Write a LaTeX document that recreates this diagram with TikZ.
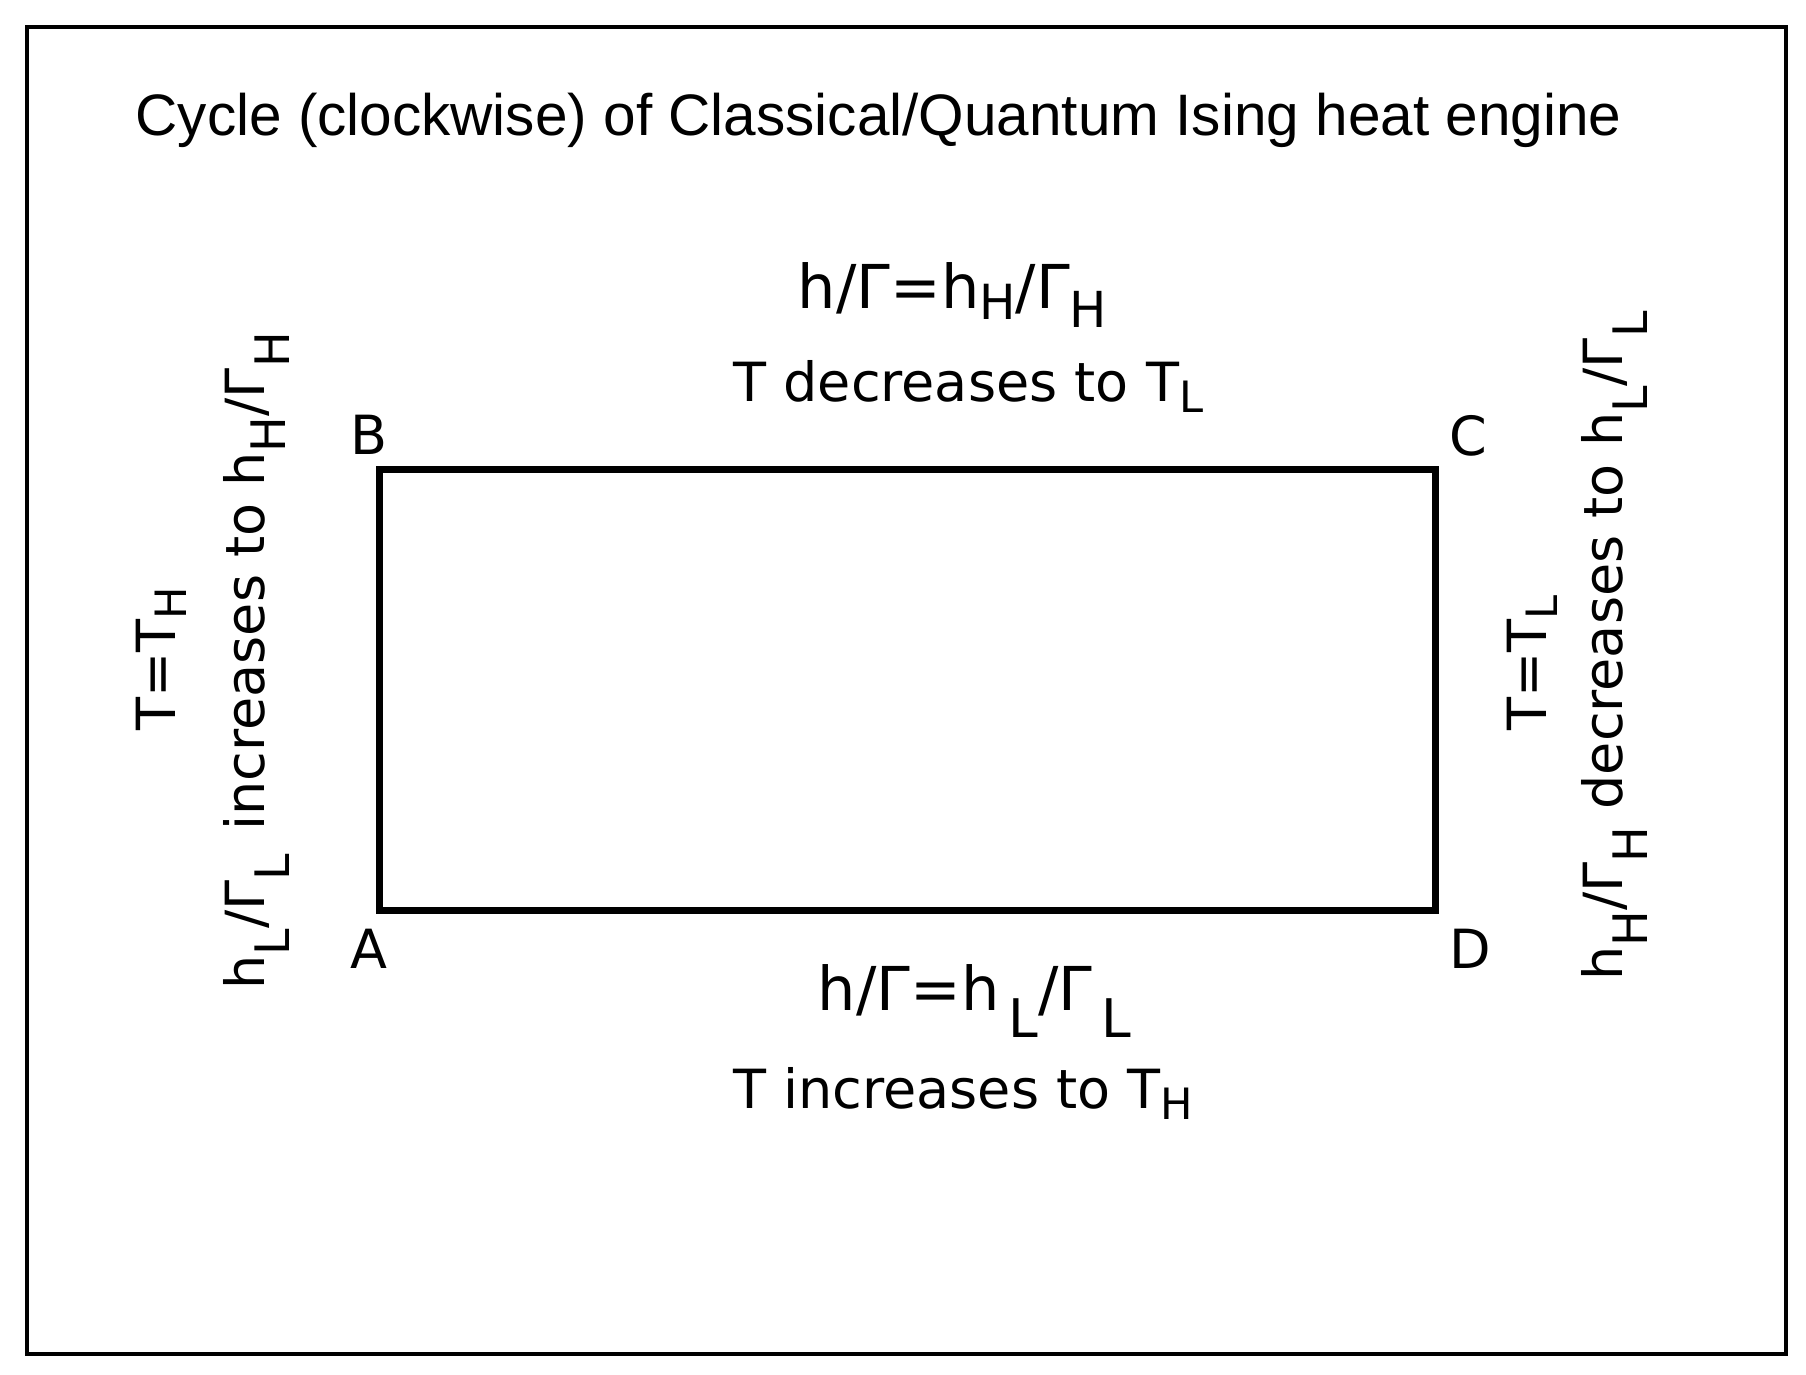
\documentclass[tikz,border=0pt]{standalone}
\usepackage{fontspec}
\setmainfont{DejaVu Sans}
\newfontfamily\titlefont{Liberation Sans}
\usepackage{graphicx}
\newcommand\subx[3]{\raisebox{-#1em}{\scalebox{#2}{#3}}}
\begin{document}
\begin{tikzpicture}[x=0.5pt,y=-0.5pt,
  lbl/.style={inner sep=0pt, font=\fontsize{27pt}{32pt}\selectfont},
  big/.style={inner sep=0pt, font=\fontsize{30.25pt}{36pt}\selectfont},
  ttl/.style={inner sep=0pt, font=\titlefont\fontsize{29.25pt}{35pt}\selectfont},
  frameline/.style={line width=2pt},
  cycleline/.style={line width=3.6pt}]
\useasboundingbox (0,0) rectangle (1806,1375);
\draw[frameline] (27,27) rectangle (1786,1354);
\coordinate (A) at (379.5,910.5);
\coordinate (B) at (379.5,469.5);
\coordinate (C) at (1435.5,469.5);
\coordinate (D) at (1435.5,910.5);
\draw[cycleline] (A) -- (B) -- (C) -- (D) -- cycle;
\node[ttl, anchor=base] (title) at (878.5,136) {Cycle (clockwise) of Classical/Quantum Ising heat engine};
\node[lbl, anchor=base] (lB) at (369,454) {B};
\node[lbl, anchor=base] (lC) at (1468,455) {C};
\node[lbl, anchor=base] (lA) at (369,968) {A};
\node[lbl, anchor=base] (lD) at (1470,968) {D};
\node[big, anchor=base west] (top1) at (797.5,309) {h/Γ=h\subx{0.18}{0.8}{H}/Γ\subx{0.31}{0.82}{H}};
\node[lbl, anchor=base west] (top2) at (733,401) {T decreases to T\subx{0.22}{0.8}{L}};
\node[big, anchor=base west] (bot1) at (817.5,1010) {h/Γ=h\hspace{0.15em}\subx{0.45}{0.88}{L}/Γ\hspace{0.15em}\subx{0.45}{0.88}{L}};
\node[lbl, anchor=base west] (bot2) at (733,1108) {T increases to T\subx{0.22}{0.8}{H}};
\node[lbl, anchor=base west, rotate=90] (left1) at (175,731) {T=T\subx{0.22}{0.8}{H}};
\node[lbl, anchor=base west, rotate=90] (left2) at (264,990) {h\subx{0.48}{0.88}{L}/Γ\subx{0.48}{0.88}{L}\ \hspace{0.12em}increases to h\subx{0.4}{0.88}{H}/Γ\subx{0.48}{0.88}{H}};
\node[lbl, anchor=base west, rotate=90] (right1) at (1546,731) {T=T\subx{0.22}{0.8}{L}};
\node[lbl, anchor=base west, rotate=90] (right2) at (1622,981) {h\subx{0.48}{0.88}{H}/Γ\subx{0.48}{0.88}{H} decreases to h\subx{0.48}{0.88}{L}/Γ\subx{0.48}{0.88}{L}};
\end{tikzpicture}
\end{document}
